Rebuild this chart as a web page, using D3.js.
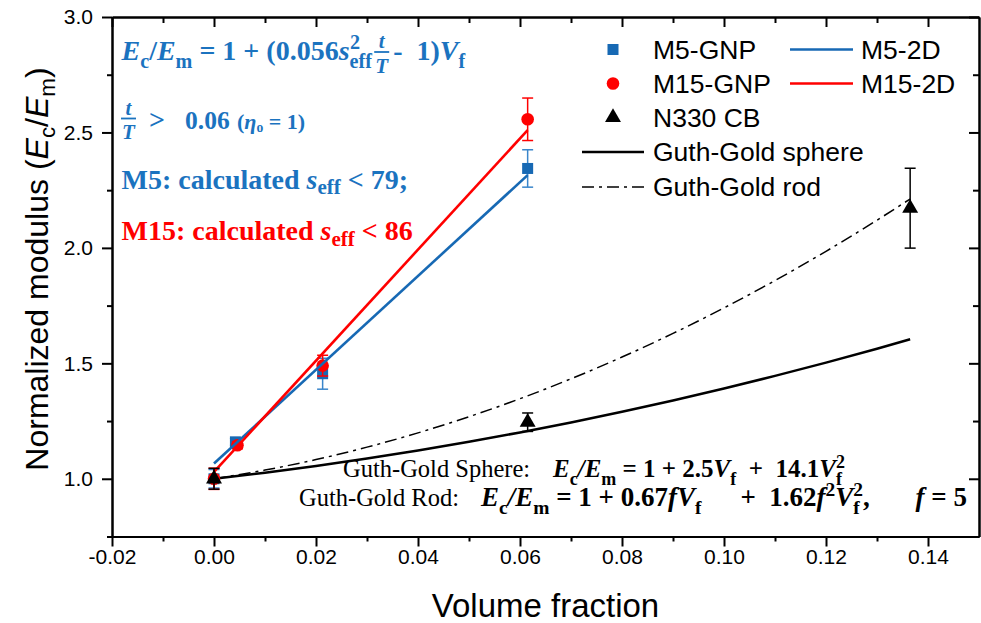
<!DOCTYPE html>
<html>
<head>
<meta charset="utf-8">
<script src="https://cdn.jsdelivr.net/npm/d3@7/dist/d3.min.js"></script>
<style>
  html, body { margin: 0; padding: 0; background: #fff; }
  svg text { white-space: pre; }
</style>
</head>
<body>
<svg id="chart" width="981" height="623"></svg>
<script>
// ---- data ----
const xTicks = [-0.02, 0.00, 0.02, 0.04, 0.06, 0.08, 0.10, 0.12, 0.14];
const xMinorTicks = [-0.01, 0.01, 0.03, 0.05, 0.07, 0.09, 0.11, 0.13];
const yTicks = [1.0, 1.5, 2.0, 2.5, 3.0];
const yMinorTicks = [0.75, 1.25, 1.75, 2.25, 2.75];

// GNP composites (volume fraction, normalized modulus, error)
const m5Vf = [0, 0.0042, 0.0213, 0.0615];
const m5Mod = [1.0, 1.16, 1.455, 2.344];
const m5Err = [0.04, 0.015, 0.067, 0.081];
const m15Vf = [0, 0.0046, 0.0213, 0.0615];
const m15Mod = [1.0, 1.145, 1.49, 2.557];
const m15Err = [0.046, 0.015, 0.045, 0.092];
// Carbon black
const cbVf = [0, 0.0615, 0.1365];
const cbMod = [1.0, 1.245, 2.172];
const cbErr = [0.045, 0.04, 0.173];
// 2D model lines
const m5LineVf = [0, 0.0615];
const m5LineMod = [1.066, 2.315];
const m15LineVf = [0, 0.0615];
const m15LineMod = [1.03, 2.51];
// Guth-Gold curves
const ggVf = [0, 0.01, 0.02, 0.03, 0.04, 0.05, 0.06, 0.07, 0.08, 0.09, 0.10, 0.11, 0.12, 0.13, 0.1365];
const ggSphere = [1.0, 1.0264, 1.0556, 1.0877, 1.1226, 1.1603, 1.2008, 1.2441, 1.2902, 1.3392, 1.391, 1.4456, 1.503, 1.5633, 1.604];
const ggRod = [1.0, 1.0376, 1.0832, 1.137, 1.1988, 1.2688, 1.3468, 1.433, 1.5272, 1.6296, 1.74, 1.8586, 1.9852, 2.12, 2.2119];

// ---- styles ----
const BLUE = "#1769b4";
const BLUE_ERR = "#3a86cb";
const BLUE_TEXT = "#1b73bf";
const RED = "#ff0000";
const SANS = "'Liberation Sans', Arial, sans-serif";
const SERIF = "'Liberation Serif', 'Times New Roman', serif";

const svg = d3.select("#chart");

const x = d3.scaleLinear().domain([-0.02, 0.15]).range([112, 979]);
const y = d3.scaleLinear().domain([0.75, 3.0]).range([536.5, 17]);
const X0 = x.range()[0], X1 = x.range()[1], Y0 = y.range()[0], Y1 = y.range()[1];

// ---- axes ----
function styleAxis(g) {
  g.selectAll("path.domain").attr("stroke", "#000").attr("stroke-width", 2);
  g.selectAll(".tick line").attr("stroke", "#000").attr("stroke-width", 2);
  g.selectAll("text").attr("font-family", SANS).attr("font-size", 21).attr("fill", "#000");
}
const fmt2 = d => d.toFixed(2);
const fmt1 = d => d.toFixed(1);

svg.append("g").attr("transform", `translate(0,${Y0})`)
  .call(d3.axisBottom(x).tickValues(xMinorTicks).tickSize(5).tickSizeOuter(0).tickFormat(""))
  .call(styleAxis);
svg.append("g").attr("transform", `translate(0,${Y0})`)
  .call(d3.axisBottom(x).tickValues(xTicks).tickSize(10).tickSizeOuter(0).tickPadding(3).tickFormat(fmt2))
  .call(styleAxis);
svg.append("g").attr("transform", `translate(0,${Y1})`)
  .call(d3.axisTop(x).tickValues(xMinorTicks).tickSize(-6).tickSizeOuter(0).tickFormat(""))
  .call(styleAxis);
svg.append("g").attr("transform", `translate(0,${Y1})`)
  .call(d3.axisTop(x).tickValues(xTicks).tickSize(-10).tickSizeOuter(0).tickFormat(""))
  .call(styleAxis);
svg.append("g").attr("transform", `translate(${X0},0)`)
  .call(d3.axisLeft(y).tickValues(yMinorTicks).tickSize(5).tickSizeOuter(0).tickFormat(""))
  .call(styleAxis);
svg.append("g").attr("transform", `translate(${X0},0)`)
  .call(d3.axisLeft(y).tickValues(yTicks).tickSize(10).tickSizeOuter(0).tickPadding(9).tickFormat(fmt1))
  .call(styleAxis);
svg.append("g").attr("transform", `translate(${X1},0)`)
  .call(d3.axisRight(y).tickValues(yMinorTicks).tickSize(-6).tickSizeOuter(0).tickFormat(""))
  .call(styleAxis);
svg.append("g").attr("transform", `translate(${X1},0)`)
  .call(d3.axisRight(y).tickValues(yTicks).tickSize(-10).tickSizeOuter(0).tickFormat(""))
  .call(styleAxis);

// ---- rich text helper: segments with bold / italic / sub / sup ----
function rich(parent, px, py, size, family, fill, segs, opts) {
  const o = Object.assign({ anchor: null, sub: 0.68, subDy: 0.27, supDy: 0.42 }, opts || {});
  const t = parent.append("text").attr("x", px).attr("y", py)
    .attr("font-family", family).attr("font-size", size).attr("fill", fill);
  if (o.anchor) t.attr("text-anchor", o.anchor);
  let cur = 0;
  segs.forEach(s => {
    const fs = s.fs || (s.p ? size * o.sub : size);
    const target = s.p === "sub" ? size * o.subDy : s.p === "sup" ? -size * o.supDy : 0;
    const ts = t.append("tspan").text(s.t).attr("dy", target - cur).attr("font-size", fs);
    if (s.s && s.s.includes("b")) ts.attr("font-weight", "bold");
    if (s.s && s.s.includes("i")) ts.attr("font-style", "italic");
    if (s.dx) ts.attr("dx", s.dx);
    if (s.gap) ts.classed("gap", true);
    cur = target;
  });
  return t;
}
// spread extra room over the tspans flagged as gaps so a formula spans a given width
function fitWidth(t, target) {
  const w = t.node().getBBox().width;
  const gaps = t.selectAll("tspan.gap");
  const extra = (target - w) / Math.max(1, gaps.size());
  gaps.each(function () {
    const cur = +(this.getAttribute("dx") || 0);
    this.setAttribute("dx", cur + extra);
  });
}
function rightEdge(t) { const b = t.node().getBBox(); return b.x + b.width; }
function frac(parent, cx, barY, size, fill, w) {
  parent.append("text").attr("x", cx).attr("y", barY - 4).attr("text-anchor", "middle")
    .attr("font-family", SERIF).attr("font-size", size).attr("font-weight", "bold")
    .attr("font-style", "italic").attr("fill", fill).text("t");
  parent.append("line").attr("x1", cx - w / 2).attr("x2", cx + w / 2)
    .attr("y1", barY).attr("y2", barY).attr("stroke", fill).attr("stroke-width", 1.8);
  parent.append("text").attr("x", cx).attr("y", barY + size * 0.98).attr("text-anchor", "middle")
    .attr("font-family", SERIF).attr("font-size", size).attr("font-weight", "bold")
    .attr("font-style", "italic").attr("fill", fill).text("T");
}

// ---- axis titles ----
svg.append("text").attr("x", (X0 + X1) / 2).attr("y", 617).attr("text-anchor", "middle")
  .attr("font-family", SANS).attr("font-size", 33).attr("fill", "#000").text("Volume fraction");

rich(svg.append("g").attr("transform", "translate(48,269) rotate(-90)"), 0, 0, 32, SANS, "#000", [
  { t: "Normalized modulus (" },
  { t: "E", s: "i" }, { t: "c", p: "sub" },
  { t: "/" },
  { t: "E", s: "i" }, { t: "m", p: "sub" },
  { t: ")" }
], { anchor: "middle", sub: 0.7, subDy: 0.22 });

// ---- marks ----
const plot = svg.append("g");
const line = d3.line().x(d => x(d[0])).y(d => y(d[1]));
const smooth = d3.line().x(d => x(d[0])).y(d => y(d[1])).curve(d3.curveMonotoneX);

function errorBars(vf, mod, err, color) {
  const g = plot.append("g").attr("stroke", color).attr("stroke-width", 1.5).attr("fill", "none");
  vf.forEach((v, i) => {
    const cx = x(v), top = y(mod[i] + err[i]), bot = y(mod[i] - err[i]);
    g.append("line").attr("x1", cx).attr("x2", cx).attr("y1", top).attr("y2", bot);
    g.append("line").attr("x1", cx - 5.5).attr("x2", cx + 5.5).attr("y1", top).attr("y2", top);
    g.append("line").attr("x1", cx - 5.5).attr("x2", cx + 5.5).attr("y1", bot).attr("y2", bot);
  });
}
const tri = d3.symbol().type(d3.symbolTriangle).size(110);

// Guth-Gold model curves
plot.append("path").datum(ggVf.map((v, i) => [v, ggSphere[i]])).attr("d", smooth)
  .attr("fill", "none").attr("stroke", "#000").attr("stroke-width", 2.5);
plot.append("path").datum(ggVf.map((v, i) => [v, ggRod[i]])).attr("d", smooth)
  .attr("fill", "none").attr("stroke", "#000").attr("stroke-width", 1.5)
  .attr("stroke-dasharray", "12,5,3,5");

// M5-GNP squares
errorBars(m5Vf, m5Mod, m5Err, BLUE_ERR);
plot.append("g").selectAll("rect").data(m5Vf).join("rect")
  .attr("x", d => x(d) - 5.5).attr("y", (d, i) => y(m5Mod[i]) - 5.5)
  .attr("width", 11).attr("height", 11).attr("fill", BLUE);

// M15-GNP circles
errorBars(m15Vf, m15Mod, m15Err, RED);
plot.append("g").selectAll("circle").data(m15Vf).join("circle")
  .attr("cx", d => x(d)).attr("cy", (d, i) => y(m15Mod[i])).attr("r", 6.3).attr("fill", RED);

// 2D model lines
plot.append("path").datum(m5LineVf.map((v, i) => [v, m5LineMod[i]])).attr("d", line)
  .attr("fill", "none").attr("stroke", BLUE).attr("stroke-width", 2.6);
plot.append("path").datum(m15LineVf.map((v, i) => [v, m15LineMod[i]])).attr("d", line)
  .attr("fill", "none").attr("stroke", RED).attr("stroke-width", 2.6);

// N330 carbon black triangles
errorBars(cbVf, cbMod, cbErr, "#000");
plot.append("g").selectAll("path").data(cbVf).join("path")
  .attr("d", tri).attr("transform", (d, i) => `translate(${x(d)},${y(cbMod[i])})`).attr("fill", "#000");

// ---- legend ----
const leg = svg.append("g");
const legRows = [49.5, 83.5, 117.5, 152, 187];
function legText(px, py, s) {
  leg.append("text").attr("x", px).attr("y", py + 9.3).attr("font-family", SANS)
    .attr("font-size", 26.5).attr("fill", "#000").text(s);
}
leg.append("rect").attr("x", 613 - 5.5).attr("y", legRows[0] - 5.5).attr("width", 11).attr("height", 11).attr("fill", BLUE);
legText(653, legRows[0], "M5-GNP");
leg.append("circle").attr("cx", 613).attr("cy", legRows[1]).attr("r", 6.3).attr("fill", RED);
legText(653, legRows[1], "M15-GNP");
leg.append("path").attr("d", tri).attr("transform", `translate(613,${legRows[2]})`).attr("fill", "#000");
legText(653, legRows[2], "N330 CB");
leg.append("line").attr("x1", 582).attr("x2", 644).attr("y1", legRows[3]).attr("y2", legRows[3])
  .attr("stroke", "#000").attr("stroke-width", 2.5);
legText(653, legRows[3], "Guth-Gold sphere");
leg.append("line").attr("x1", 582).attr("x2", 644).attr("y1", legRows[4]).attr("y2", legRows[4])
  .attr("stroke", "#000").attr("stroke-width", 1.5).attr("stroke-dasharray", "12,5,3,5");
legText(653, legRows[4], "Guth-Gold rod");
leg.append("line").attr("x1", 790).attr("x2", 853).attr("y1", legRows[0]).attr("y2", legRows[0])
  .attr("stroke", BLUE).attr("stroke-width", 2.6);
legText(861, legRows[0], "M5-2D");
leg.append("line").attr("x1", 790).attr("x2", 853).attr("y1", legRows[1]).attr("y2", legRows[1])
  .attr("stroke", RED).attr("stroke-width", 2.6);
legText(861, legRows[1], "M15-2D");

// ---- annotations: 2D model ----
const ann = svg.append("g");
const annOpts = { sub: 0.75, subDy: 0.2, supDy: 0.4 };
const a1 = rich(ann, 121.5, 60, 28, SERIF, BLUE_TEXT, [
  { t: "E", s: "bi" }, { t: "c", s: "b", p: "sub" },
  { t: "/", s: "b" },
  { t: "E", s: "bi" }, { t: "m", s: "b", p: "sub" },
  { t: " = 1 + (0.056", s: "b" },
  { t: "s", s: "bi" }, { t: "eff", s: "b", p: "sub" }, { t: "2", s: "b", p: "sup", dx: -22 }
], { sub: 0.72, subDy: 0.27, supDy: 0.4 });
const e1 = rightEdge(a1);
frac(ann, e1 + 9.5, 52, 21, BLUE_TEXT, 15);
rich(ann, e1 + 21, 60, 28, SERIF, BLUE_TEXT, [
  { t: "-  1)", s: "b" }, { t: "V", s: "bi" }, { t: "f", s: "b", p: "sub" }
], { sub: 0.72, subDy: 0.27 });

frac(ann, 128.5, 118.5, 21, BLUE_TEXT, 15);
ann.append("text").attr("x", 149).attr("y", 128.5).attr("font-family", SERIF).attr("font-size", 28)
  .attr("font-weight", "bold").attr("fill", BLUE_TEXT).text(">");
ann.append("text").attr("x", 185).attr("y", 128.5).attr("font-family", SERIF).attr("font-size", 25.5)
  .attr("font-weight", "bold").attr("fill", BLUE_TEXT).text("0.06");
rich(ann, 237, 128.5, 22, SERIF, BLUE_TEXT, [
  { t: "(", s: "b" }, { t: "η", s: "bi" }, { t: "o", s: "b", p: "sub" },
  { t: " = 1)", s: "b" }
], { sub: 0.62, subDy: 0.18 });

rich(ann, 121.5, 188.5, 28, SERIF, BLUE_TEXT, [
  { t: "M5: calculated ", s: "b" }, { t: "s", s: "bi" }, { t: "eff", s: "b", p: "sub" },
  { t: " < 79;", s: "b" }
], annOpts);
rich(ann, 121.5, 240, 28, SERIF, RED, [
  { t: "M15: calculated ", s: "b" }, { t: "s", s: "bi" }, { t: "eff", s: "b", p: "sub" },
  { t: " < 86", s: "b" }
], annOpts);

// ---- annotations: Guth-Gold equations ----
const eqOpts = { sub: 0.72, subDy: 0.3, supDy: 0.38 };
ann.append("text").attr("x", 343).attr("y", 477).attr("font-family", SERIF).attr("font-size", 24.5)
  .attr("fill", "#000").text("Guth-Gold Sphere:");
rich(ann, 553, 477, 25, SERIF, "#000", [
  { t: "E", s: "bi" }, { t: "c", s: "b", p: "sub" }, { t: "/", s: "bi" },
  { t: "E", s: "bi" }, { t: "m", s: "b", p: "sub" },
  { t: " = 1 + 2.5", s: "b" }, { t: "V", s: "bi" }, { t: "f", s: "b", p: "sub" },
  { t: "  +  14.1", s: "b" }, { t: "V", s: "bi" }, { t: "f", s: "b", p: "sub" },
  { t: "2", s: "b", p: "sup", dx: -6 }
], eqOpts);

ann.append("text").attr("x", 299).attr("y", 506).attr("font-family", SERIF).attr("font-size", 24.5)
  .attr("fill", "#000").text("Guth-Gold Rod:");
const eqRod = rich(ann, 481, 506, 27, SERIF, "#000", [
  { t: "E", s: "bi" }, { t: "c", s: "b", p: "sub" }, { t: "/", s: "bi" },
  { t: "E", s: "bi" }, { t: "m", s: "b", p: "sub" },
  { t: " = 1 + 0.67", s: "b" }, { t: "fV", s: "bi" }, { t: "f", s: "b", p: "sub" },
  { t: "  +  1.62", s: "b", gap: true }, { t: "f", s: "bi" }, { t: "2", s: "b", p: "sup" },
  { t: "V", s: "bi" }, { t: "f", s: "b", p: "sub" }, { t: "2", s: "b", p: "sup", dx: -6.5 },
  { t: ",", s: "b" }, { t: "   " }, { t: "f", s: "bi", gap: true }, { t: " = 5", s: "b" }
], eqOpts);
fitWidth(eqRod, 487);
</script>
</body>
</html>
